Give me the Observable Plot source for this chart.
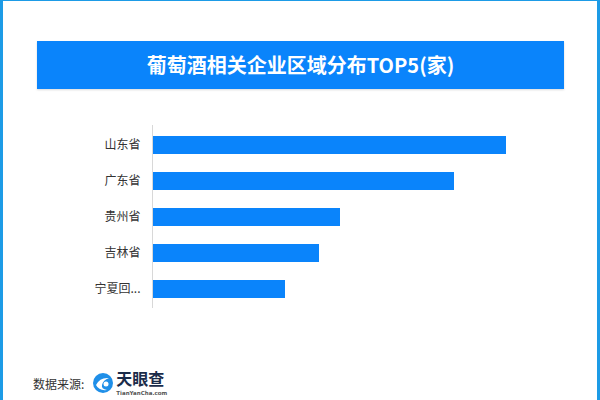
<!DOCTYPE html>
<html>
<head>
<meta charset="utf-8">
<script src="https://cdn.jsdelivr.net/npm/d3@7"></script>
<script src="https://cdn.jsdelivr.net/npm/@observablehq/plot@0.6"></script>
<style>
  html, body { margin: 0; padding: 0; background: #fff; }
  #page { position: relative; width: 600px; height: 400px; overflow: hidden; background: #fff;
          font-family: "Noto Sans CJK SC", "Noto Sans", sans-serif; }
  #frame { position: absolute; left: 0; top: 0; width: 594px; height: 400px;
           border-left: 3px solid #1d9be6; border-right: 3px solid #1d9be6; border-top: 1px solid #1d9be6; }
  #title { position: absolute; left: 37px; top: 41px; width: 527px; height: 48px; background: #0a84fb;
           color: #fff; font-size: 20px; font-weight: bold; line-height: 48px; text-align: center;
           box-shadow: 0 1px 2px rgba(0,0,0,0.15); }
  #chart { position: absolute; left: 0; top: 110px; }
  #footer { position: absolute; left: 33px; top: 369px; height: 28px; display: flex; align-items: center; }
  #src { font-size: 12px; color: #333; margin-right: 8px; }
  #logo-text { display: flex; flex-direction: column; margin-left: 2px; }
  #logo-cn { font-size: 16px; font-weight: bold; color: #1b2c4a; line-height: 16px; height: 16px; }
  #logo-en { font-size: 5.5px; line-height: 7px; height: 7px; color: #555; font-weight: bold; margin-top: 4px;
             font-family: "DejaVu Sans", sans-serif; }
</style>
</head>
<body>
<div id="page">
  <div id="frame"></div>
  <div id="title">葡萄酒相关企业区域分布TOP5(家)</div>
  <div id="chart"></div>
  <div id="footer">
    <span id="src">数据来源:</span>
    <svg width="22" height="22" viewBox="0 0 22 22">
      <circle cx="11" cy="11" r="10" fill="#1f8fe8"/>
      <path d="M4 13 Q8 5 17 6 Q11 8 10 13 Q9 17 15 18 Q7 19 4 13 Z" fill="#fff"/>
      <circle cx="14" cy="12" r="2.5" fill="#fff"/>
    </svg>
    <div id="logo-text">
      <span id="logo-cn">天眼查</span>
      <span id="logo-en">TianYanCha.com</span>
    </div>
  </div>
</div>
<script>
const provinces = ["山东省", "广东省", "贵州省", "吉林省", "宁夏回族自治区"];
const counts = [354, 302, 188, 167, 133];

const data = provinces.map((p, i) => ({province: p, count: counts[i]}));

const chart = Plot.plot({
  width: 600,
  height: 210,
  marginLeft: 152,
  marginRight: 0,
  marginTop: 15,
  marginBottom: 12,
  style: {fontFamily: "'Noto Sans CJK SC', sans-serif", fontSize: "12px", color: "#333", background: "transparent"},
  x: {domain: [0, 448], axis: null},
  y: {domain: provinces, paddingInner: 0.5, paddingOuter: 0.27, label: null, tickSize: 0, tickPadding: 12,
      tickFormat: d => d.length > 4 ? d.slice(0, 3) + "..." : d},
  marks: [
    Plot.barX(data, {x: "count", y: "province", fill: "#0a84fb"}),
    Plot.ruleX([0], {stroke: "#d8d8d8", strokeWidth: 1})
  ]
});
document.getElementById("chart").appendChild(chart);
</script>
</body>
</html>
